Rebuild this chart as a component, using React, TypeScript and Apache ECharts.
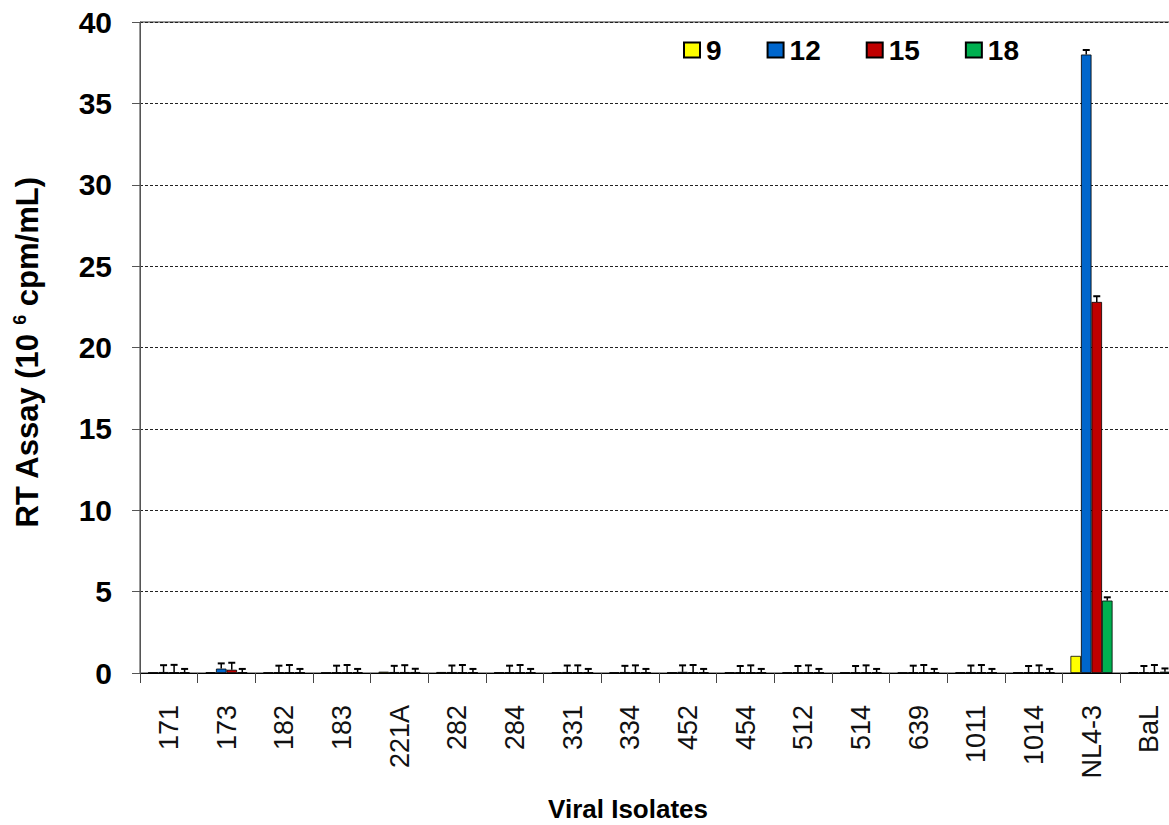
import React, { useEffect, useRef } from "react";
import * as echarts from "echarts";

// Viral isolates on the x axis
const categories = [
  "171", "173", "182", "183", "221A", "282", "284", "331", "334",
  "452", "454", "512", "514", "639", "1011", "1014", "NL4-3", "BaL",
];

// Series names (days) and colours
const seriesNames = ["9", "12", "15", "18"];
const seriesColors = ["#FFFF00", "#0066CC", "#C00000", "#00B050"];

// RT assay values (10^6 cpm/mL) per day
const day9 = [0.04, 0.05, 0.04, 0.04, 0.08, 0.06, 0.05, 0.05, 0.05, 0.05, 0.05, 0.05, 0.05, 0.04, 0.05, 0.05, 1.05, 0.05];
const day12 = [0.06, 0.27, 0.05, 0.05, 0.06, 0.06, 0.05, 0.06, 0.06, 0.07, 0.05, 0.05, 0.05, 0.05, 0.06, 0.05, 38.0, 0.05];
const day15 = [0.05, 0.2, 0.05, 0.05, 0.06, 0.05, 0.05, 0.05, 0.05, 0.05, 0.05, 0.05, 0.05, 0.05, 0.05, 0.05, 22.8, 0.05];
const day18 = [0.05, 0.05, 0.05, 0.05, 0.06, 0.05, 0.05, 0.05, 0.05, 0.05, 0.05, 0.05, 0.05, 0.05, 0.05, 0.05, 4.45, 0.08];

// Standard errors per day
const err9 = [0, 0, 0, 0, 0, 0, 0, 0, 0, 0, 0, 0, 0, 0, 0, 0, 0, 0];
const err12 = [0.42, 0.32, 0.4, 0.4, 0.38, 0.4, 0.4, 0.4, 0.38, 0.4, 0.38, 0.38, 0.38, 0.4, 0.4, 0.38, 0.28, 0.38];
const err15 = [0.45, 0.43, 0.44, 0.44, 0.42, 0.44, 0.44, 0.42, 0.42, 0.44, 0.42, 0.42, 0.42, 0.44, 0.44, 0.42, 0.35, 0.44];
const err18 = [0.2, 0.2, 0.2, 0.2, 0.2, 0.2, 0.2, 0.2, 0.2, 0.2, 0.2, 0.2, 0.2, 0.2, 0.2, 0.2, 0.2, 0.2];

// Y axis range
const yMin = 0;
const yMax = 40;
const yStep = 5;

const values = [day9, day12, day15, day18];
const errors = [err9, err12, err15, err18];
const CAT_GAP = 0.27;
const FONT = "'Liberation Sans', Arial, Helvetica, sans-serif";

export default function App() {
  const ref = useRef<HTMLDivElement>(null);

  useEffect(() => {
    if (!ref.current) return;
    const chart = echarts.init(ref.current, undefined, { renderer: "svg" });

    const errData: number[][] = [];
    values.forEach((vals, s) => {
      vals.forEach((v, i) => {
        errData.push([i, s, v, errors[s][i]]);
      });
    });

    const barSeries = seriesNames.map((name, s) => ({
      name,
      type: "bar",
      data: values[s],
      barGap: "0%",
      barCategoryGap: `${CAT_GAP * 100}%`,
      itemStyle: { color: seriesColors[s], borderColor: "#000", borderWidth: 0.8 },
      z: 2,
    }));

    chart.setOption({
      animation: false,
      backgroundColor: "#fff",
      textStyle: { fontFamily: FONT },
      grid: {
        left: 140,
        top: 22,
        right: 0,
        bottom: 152,
        show: true,
        borderColor: "#333",
        borderWidth: 1,
      },
      legend: {
        data: seriesNames,
        left: 683,
        top: 36,
        padding: 0,
        itemWidth: 16,
        itemHeight: 15,
        itemGap: 45,
        icon: "rect",
        textStyle: {
          fontSize: 28,
          fontWeight: "bold",
          color: "#000",
          fontFamily: FONT,
          padding: [0, 0, 0, 1],
        },
      },
      xAxis: {
        type: "category",
        data: categories,
        axisLine: { show: true, lineStyle: { color: "#000", width: 1 } },
        axisTick: { show: true, length: 10, lineStyle: { color: "#444" } },
        axisLabel: {
          interval: 0,
          rotate: 90,
          fontSize: 27,
          color: "#111",
          margin: 32,
          fontFamily: FONT,
        },
        splitLine: { show: false },
      },
      yAxis: {
        type: "value",
        min: yMin,
        max: yMax,
        interval: yStep,
        name: "{a|RT Assay (10 }{s|6}{a| cpm/mL)}",
        nameLocation: "middle",
        nameGap: 96,
        nameRotate: 90,
        nameTextStyle: {
          padding: [0, 10, 0, 0],
          rich: {
            a: { fontSize: 31, fontWeight: "bold", color: "#000", fontFamily: FONT },
            s: { fontSize: 18, fontWeight: "bold", color: "#000", fontFamily: FONT, padding: [0, 0, 15, 0] },
          },
        },
        axisLine: { show: true, lineStyle: { color: "#555", width: 1 } },
        axisTick: { show: true, length: 8, lineStyle: { color: "#555" } },
        axisLabel: {
          fontSize: 30,
          fontWeight: "bold",
          color: "#000",
          margin: 28,
          fontFamily: FONT,
        },
        splitLine: {
          show: true,
          lineStyle: { color: "#222", width: 1, type: [3, 2] },
        },
      },
      graphic: [
        {
          type: "text",
          x: 628,
          y: 809,
          style: {
            text: "Viral Isolates",
            fontSize: 26,
            fontWeight: "bold",
            fill: "#000",
            fontFamily: FONT,
            align: "center",
            verticalAlign: "middle",
          },
        },
      ],
      series: [
        ...barSeries,
        {
          name: "errors",
          type: "custom",
          data: errData,
          encode: { x: 0, y: 2 },
          z: 5,
          silent: true,
          renderItem: (_params: any, api: any) => {
            const cat = api.value(0);
            const s = api.value(1);
            const v = api.value(2);
            const e = api.value(3);
            if (!e) return { type: "group", children: [] };
            const catW = api.size([1, 0])[0];
            const bw = (catW * (1 - CAT_GAP)) / 4;
            const base = api.coord([cat, v]);
            const top = api.coord([cat, v + e]);
            const x = base[0] + (s - 1.5) * bw;
            return {
              type: "group",
              children: [
                {
                  type: "line",
                  shape: { x1: x, y1: base[1], x2: x, y2: top[1] },
                  style: { stroke: "#000", lineWidth: 1.5 },
                },
                {
                  type: "line",
                  shape: { x1: x - 3.5, y1: top[1], x2: x + 3.5, y2: top[1] },
                  style: { stroke: "#000", lineWidth: 2 },
                },
              ],
            };
          },
        },
      ],
    });

    return () => chart.dispose();
  }, []);

  // The plot area runs a few pixels past the visible frame on the right,
  // so the chart canvas is wider than its clipping wrapper.
  return (
    <div style={{ position: "absolute", left: 0, top: 0, width: 1169, height: 825, overflow: "hidden", background: "#fff" }}>
      <div ref={ref} style={{ width: 1178, height: 825 }} />
    </div>
  );
}
